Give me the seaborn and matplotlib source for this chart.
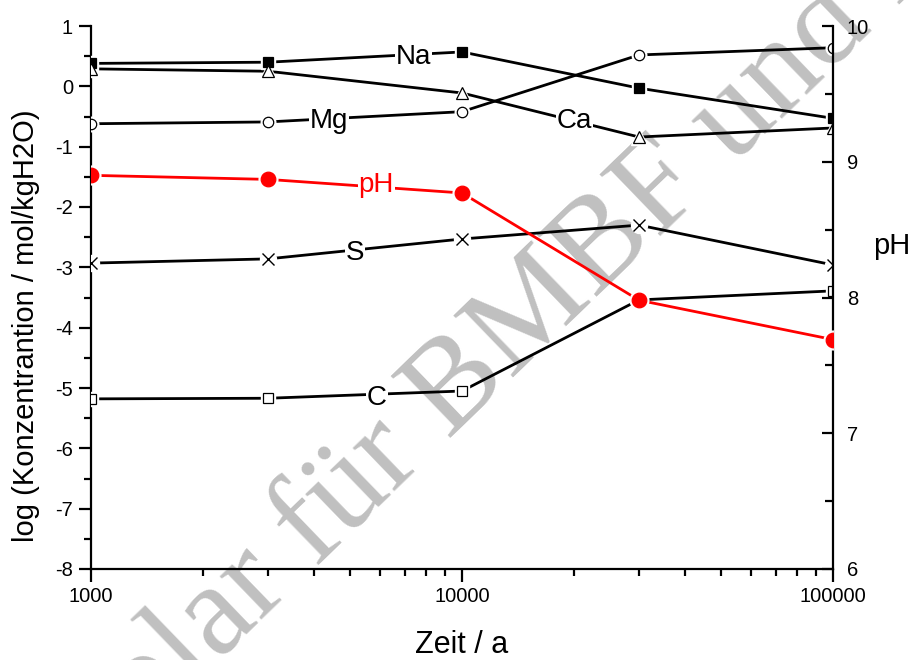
import numpy as np
import pandas as pd
import matplotlib
matplotlib.use("Agg")
import matplotlib.pyplot as plt
from matplotlib.ticker import MultipleLocator, FixedLocator, FixedFormatter, LogLocator, NullFormatter
import seaborn as sns

# ---------------- data ----------------
zeit = [1000, 3000, 10000, 30000, 100000]
na = [0.38, 0.40, 0.57, -0.03, -0.53]
ca = [0.29, 0.25, -0.11, -0.84, -0.69]
mg = [-0.62, -0.59, -0.42, 0.52, 0.64]
s = [-2.93, -2.86, -2.53, -2.30, -2.96]
c = [-5.18, -5.17, -5.05, -3.54, -3.39]
ph = [8.90, 8.87, 8.77, 7.98, 7.69]

x_ticks = [1000, 10000, 100000]
x_ticklabels = ["1000", "10000", "100000"]

# ---------------- style ----------------
sns.set_style("ticks")
plt.rcParams["font.family"] = ["Liberation Sans", "DejaVu Sans"]
plt.rcParams["axes.unicode_minus"] = False
plt.rcParams["text.color"] = "black"
plt.rcParams["axes.labelcolor"] = "black"

fig = plt.figure(figsize=(9.13, 6.60), dpi=100)
fig.patch.set_facecolor("white")
ax = fig.add_axes([91 / 913, 1 - 569 / 660, (833 - 91) / 913, (569 - 26) / 660])
ax.patch.set_visible(False)
ax2 = ax.twinx()
ax2.patch.set_visible(False)

# watermark (behind the data)
wm_kw = dict(color="#c0c0c0", fontsize=94, family=["Liberation Serif", "DejaVu Serif"],
             rotation=44, rotation_mode="anchor", va="baseline", zorder=-5)
fig.text(448 / 913, 1 - 440 / 660, "Exemplar für ", ha="right", **wm_kw)
fig.text(448 / 913, 1 - 440 / 660, "BMBF und Länder", ha="left", **wm_kw)

lw = 2.0

def series(axis, y, color, marker, ms, mfc, mew=0.9):
    df = pd.DataFrame({"Zeit": zeit, "val": y})
    # white halo for the gap around markers
    axis.plot(df["Zeit"], df["val"], linestyle="none", marker=marker if marker != "x" else "o",
              ms=ms + 3, mfc="white", mec="white", zorder=3)
    sns.lineplot(data=df, x="Zeit", y="val", ax=axis, color=color, lw=lw,
                 zorder=2, legend=False)
    axis.plot(df["Zeit"], df["val"], linestyle="none", marker=marker, ms=ms,
              mfc=mfc, mec=color if mfc != "white" else "black", mew=mew, zorder=4)

series(ax, na, "black", "s", 7, "black")
series(ax, ca, "black", "^", 8.5, "white")
series(ax, mg, "black", "o", 7.5, "white")
series(ax, s, "black", "x", 8.5, "black", mew=1.0)
series(ax, c, "black", "s", 7, "white")
series(ax2, ph, "red", "o", 10.5, "red")

# scales / limits
ax.set_xscale("log")
ax.set_xlim(1000, 100000)
ax.set_ylim(-8, 1)
ax2.set_ylim(6, 10)

ax.xaxis.set_major_locator(FixedLocator(x_ticks))
ax.xaxis.set_major_formatter(FixedFormatter(x_ticklabels))
ax.xaxis.set_minor_locator(LogLocator(base=10, subs=np.arange(2, 10)))
ax.xaxis.set_minor_formatter(NullFormatter())
ax.yaxis.set_major_locator(MultipleLocator(1))
ax.yaxis.set_minor_locator(MultipleLocator(0.5))
ax2.yaxis.set_major_locator(MultipleLocator(1))
ax2.yaxis.set_minor_locator(MultipleLocator(0.5))

ax.set_xlabel("")
ax.set_ylabel("")
ax2.set_ylabel("")

for sp in ["top", "right"]:
    ax.spines[sp].set_visible(False)
for sp in ["top", "left", "bottom"]:
    ax2.spines[sp].set_visible(False)
for a in (ax, ax2):
    for sp in a.spines.values():
        sp.set_linewidth(1.6)
        sp.set_color("black")

ax.tick_params(axis="both", which="major", direction="out", length=9, width=1.6,
               labelsize=14.5, pad=4, colors="black")
ax.tick_params(axis="both", which="minor", direction="out", length=5, width=1.6, colors="black")
ax2.tick_params(axis="y", which="major", direction="in", length=8, width=1.6,
                labelsize=14.5, pad=10, colors="black")
ax2.tick_params(axis="y", which="minor", direction="in", length=5.5, width=1.6, colors="black")

# inline labels
lab_kw = dict(fontsize=20, ha="center", va="center", zorder=6,
              bbox=dict(facecolor="white", edgecolor="none", pad=0.5))
ax.text(7380, 0.49, "Na", color="black", **lab_kw)
ax.text(20050, -0.58, "Ca", color="black", **lab_kw)
ax.text(4375, -0.57, "Mg", color="black", **lab_kw)
ax.text(5150, -2.76, "S", color="black", **lab_kw)
ax.text(5900, -5.16, "C", color="black", **lab_kw)
ax2.text(5865, 8.83, "pH", color="red", **lab_kw)

# axis titles
fig.text(462 / 913, 1 - 653 / 660, "Zeit / a", fontsize=22, ha="center", va="baseline")
fig.text(26 / 913, 1 - 326 / 660, "log (Konzentrantion / mol/kgH2O)", fontsize=21,
         rotation=90, ha="center", va="center")
fig.text(873 / 913, 1 - 254 / 660, "pH", fontsize=21, ha="left", va="baseline")

fig.savefig("out.png", dpi=100)
